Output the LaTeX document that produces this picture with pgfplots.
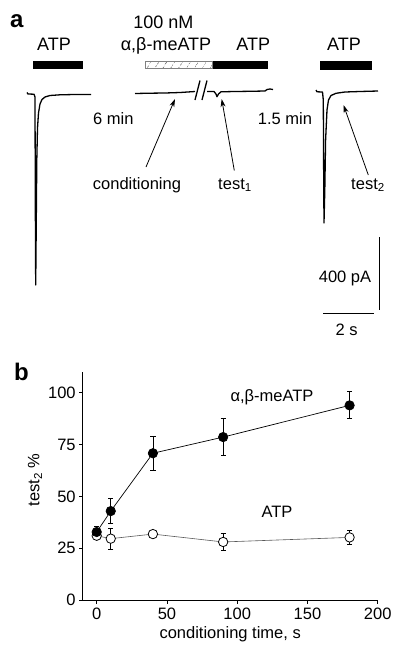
\documentclass[border=0pt]{standalone}
\usepackage{fontspec}
\setmainfont{Liberation Sans}
\usepackage{pgfplots}
\pgfplotsset{compat=1.18}
\usetikzlibrary{patterns.meta,arrows.meta}
\newcommand\fs{\fontsize{16.5}{19}\selectfont}
\newcommand\fl{\fontsize{18}{21}\selectfont}
\begin{document}
\begin{tikzpicture}
\path[use as bounding box] (0,0) rectangle (394pt,649pt);
\begin{axis}[name=A, at={(0,0)}, anchor=south west, scale only axis,
  width=394pt, height=649pt, xmin=0, xmax=394, ymin=0, ymax=649,
  y dir=reverse, hide axis, clip=false]
% ---- current traces ----
\addplot[black, line width=1.3pt, line join=round] coordinates {
 (27,92.5) (28,94) (34,94.2) (35,97) (35.3,200) (35.7,285) (36.2,230) (36.8,160)
 (37.5,128) (38.5,113) (40,104) (42,99.5) (45,97) (50,95.5) (60,94.8) (75,94.5) (91,94.5)};
\addplot[black, line width=1.3pt, line join=round] coordinates {
 (135,93.5) (150,93.2) (165,93) (180,92.5) (195,91.5)};
\addplot[black, line width=1.3pt, line join=round] coordinates {
 (207,91.5) (214,91.5) (216,94) (217,96.7) (218.5,94) (221,91.8) (235,91.5)
 (250,91.3) (265,91) (267,89.5) (270,89) (273,89.5)};
\addplot[black, line width=1.3pt] coordinates {(195,100) (200,80.5)};
\addplot[black, line width=1.3pt] coordinates {(202,100) (207,80.5)};
\addplot[black, line width=1.3pt, line join=round] coordinates {
 (316,90) (317,91.8) (322.5,92) (323.3,100) (323.7,180) (324,223) (324.8,190)
 (325.6,140) (327,110) (328.5,100) (331,95.5) (336,93.3) (345,92) (360,91.5) (378,91)};
% ---- application bars ----
\addplot[fill=black, draw=none] coordinates {(33,60.5) (83,60.5) (83,68.5) (33,68.5)};
\addplot[draw=gray, line width=0.6pt, pattern={Lines[angle=58,distance=6.5pt,line width=0.7pt]}, pattern color=gray]
 coordinates {(145,61) (212.7,61) (212.7,68.3) (145,68.3) (145,61)};
\addplot[fill=black, draw=none] coordinates {(212.7,60.7) (267.7,60.7) (267.7,68.5) (212.7,68.5)};
\addplot[fill=black, draw=none] coordinates {(319.5,61) (371.5,61) (371.5,69.5) (319.5,69.5)};
% ---- arrows ----
\addplot[black, line width=0.8pt, -{Stealth[length=8pt,width=5pt]}] coordinates {(146,167) (175,99)};
\addplot[black, line width=0.8pt, -{Stealth[length=8pt,width=5pt]}] coordinates {(234.3,170.5) (221.7,99)};
\addplot[black, line width=0.8pt, -{Stealth[length=8pt,width=5pt]}] coordinates {(368.3,175) (343.5,105)};
% ---- scale bars ----
\addplot[black, line width=1pt] coordinates {(379,237) (379,310)};
\addplot[black, line width=1pt] coordinates {(323,313) (374,313)};
% ---- texts ----
\node[font=\bfseries\fontsize{24}{27}\selectfont, anchor=base, inner sep=0] at (axis cs:16.7,27.3) {a};
\node[font=\bfseries\fontsize{24}{27}\selectfont, anchor=base, inner sep=0] at (axis cs:21.5,380) {b};
\node[font=\fl, anchor=base, inner sep=0] at (axis cs:54,50) {ATP};
\node[font=\fl, anchor=base, inner sep=0] at (axis cs:163.5,28.3) {100 nM};
\node[font=\fl, anchor=base, inner sep=0] at (axis cs:166,50) {α,β-meATP};
\node[font=\fl, anchor=base, inner sep=0] at (axis cs:253.3,50) {ATP};
\node[font=\fl, anchor=base, inner sep=0] at (axis cs:344,50) {ATP};
\node[font=\fs, anchor=base, inner sep=0] at (axis cs:113.3,124) {6 min};
\node[font=\fs, anchor=base, inner sep=0] at (axis cs:285,124) {1.5 min};
\node[font=\fs, anchor=base, inner sep=0] at (axis cs:137,189) {conditioning};
\node[font=\fs, anchor=base, inner sep=0] at (axis cs:235,189) {test\textsubscript{1}};
\node[font=\fs, anchor=base, inner sep=0] at (axis cs:368,189) {test\textsubscript{2}};
\node[font=\fs, anchor=base, inner sep=0] at (axis cs:345,282) {400 pA};
\node[font=\fs, anchor=base, inner sep=0] at (axis cs:346.7,335) {2 s};
\end{axis}
\begin{axis}[at={(82.65pt,49pt)}, anchor=south west, scale only axis,
  width=295.05pt, height=228pt, xmin=-10, xmax=200, ymin=0, ymax=110,
  axis lines*=left, xtick={0,50,...,200}, ytick={0,25,...,100},
  tick align=outside, major tick length=3.5pt,
  every tick/.style={black, line width=0.7pt},
  axis line style={black, line width=0.7pt},
  ticklabel style={font=\fs},
  /pgf/number format/assume math mode=true,
  xticklabel style={yshift=-1pt},
  xlabel={conditioning time, s}, ylabel={test\textsubscript{2} \%},
  label style={font=\fs},
  xlabel style={at={(axis description cs:0.5,-0.149)}, anchor=center},
  ylabel style={at={(axis description cs:-0.1615,0.526)}, anchor=center},
  clip=false]
\addplot[black!65, line width=0.6pt, mark=*, mark size=4.7pt,
  mark options={fill=white, draw=black, line width=0.8pt},
  error bars/.cd, y dir=both, y explicit,
  error bar style={black, line width=0.8pt},
  error mark options={black, rotate=90, mark size=2.6pt, line width=0.8pt}]
 table[x=x, y=y, y error=e] {
 x y e
 0 31 2
 10 29.6 5
 40 31.8 1.5
 90 28.0 4
 180 30.2 3.2
 };
\addplot[black, line width=0.7pt, mark=*, mark size=4.7pt,
  mark options={fill=black, draw=black},
  error bars/.cd, y dir=both, y explicit,
  error bar style={black, line width=0.8pt},
  error mark options={black, rotate=90, mark size=2.6pt, line width=0.8pt}]
 table[x=x, y=y, y error=e] {
 x y e
 0 32.8 2.5
 10 42.9 6
 40 70.8 8.3
 90 78.6 8.9
 180 93.9 6.5
 };
\node[font=\fs, anchor=center, inner sep=0] at (axis cs:124.8,98) {α,β-meATP};
\node[font=\fs, anchor=center, inner sep=0] at (axis cs:128.3,42.3) {ATP};
\end{axis}
\end{tikzpicture}
\end{document}
